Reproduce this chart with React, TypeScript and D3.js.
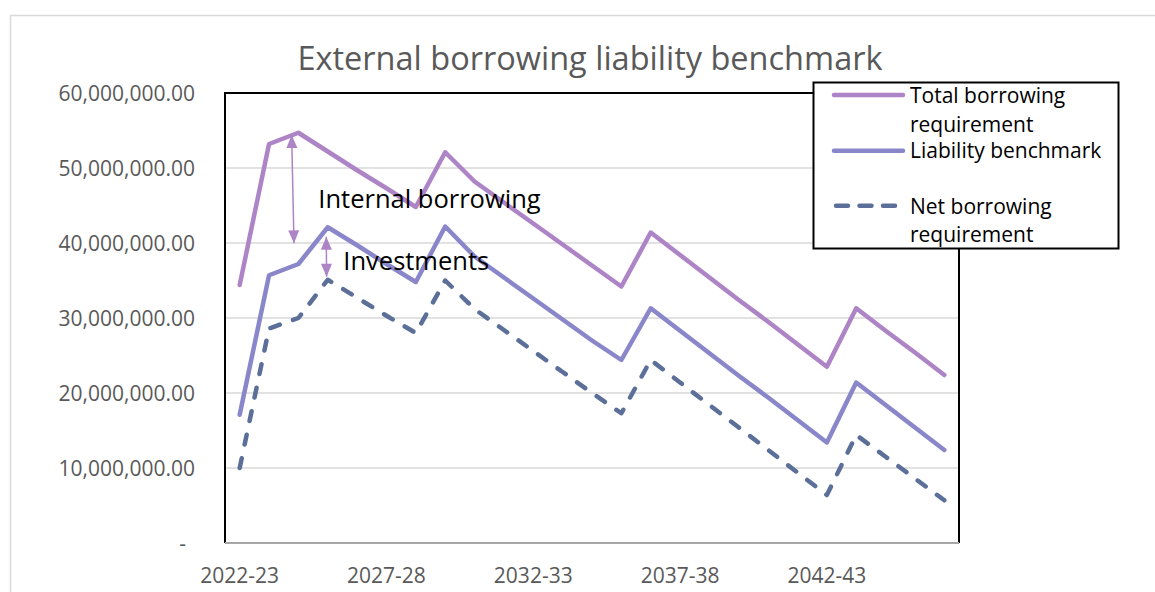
import React from "react";
import * as d3 from "d3";

const categories = [
  "2022-23","2023-24","2024-25","2025-26","2026-27","2027-28","2028-29","2029-30","2030-31","2031-32",
  "2032-33","2033-34","2034-35","2035-36","2036-37","2037-38","2038-39","2039-40","2040-41","2041-42",
  "2042-43","2043-44","2044-45","2045-46","2046-47",
];
const xTickLabels = ["2022-23", "2027-28", "2032-33", "2037-38", "2042-43"];

// values in millions
const totalBorrowing = [34.4, 53.2, 54.7, 52.2, 49.7, 47.3, 44.8, 52.1, 48.2, 45.4, 42.6, 39.8, 37.0, 34.2, 41.4, 38.4, 35.4, 32.4, 29.5, 26.5, 23.5, 31.3, 28.3, 25.4, 22.4];
const liabilityBenchmark = [17.1, 35.7, 37.2, 42.1, 39.7, 37.2, 34.8, 42.2, 38.2, 35.4, 32.6, 29.8, 27.0, 24.4, 31.3, 28.3, 25.3, 22.3, 19.4, 16.4, 13.4, 21.4, 18.4, 15.4, 12.4];
const netBorrowing = [10.0, 28.6, 30.0, 35.1, 32.7, 30.3, 28.0, 35.0, 31.2, 28.4, 25.6, 22.8, 20.0, 17.3, 24.4, 21.4, 18.4, 15.4, 12.4, 9.4, 6.4, 14.4, 11.5, 8.6, 5.7];

const yTicks = [0, 10e6, 20e6, 30e6, 40e6, 50e6, 60e6];

// annotations in data coordinates (category index, value)
const arrows = [
  { x1: 1.77, y1: 54.4e6, x2: 1.85, y2: 39.96e6 },
  { x1: 2.95, y1: 40.84e6, x2: 2.96, y2: 35.5e6 },
];
const labels = [
  { text: "Internal borrowing", x: 2.68, y: 44.63e6 },
  { text: "Investments", x: 3.53, y: 36.4e6 },
];

const COLORS = { total: "#AD84C6", liability: "#8A86CA", net: "#5B6F99" };
const FONT = "'Open Sans', sans-serif";

export default function App() {
  const W = 1155, H = 592;
  const left = 225, right = 959, top = 93, bottom = 543;
  const x = d3.scalePoint<string>().domain(categories).range([left, right]).padding(0.5);
  const xi = d3.scaleLinear().domain([0, categories.length - 1]).range([x(categories[0])!, x(categories[categories.length - 1])!]);
  const y = d3.scaleLinear().domain([0, 60e6]).range([bottom, top]);
  const fmt = d3.format(",.2f");

  const line = d3.line<number>().x((_, i) => x(categories[i])!).y((d) => y(d * 1e6));

  const series = [
    { name: "total", data: totalBorrowing, color: COLORS.total, dash: undefined },
    { name: "liability", data: liabilityBenchmark, color: COLORS.liability, dash: undefined },
    { name: "net", data: netBorrowing, color: COLORS.net, dash: "10 14" },
  ];

  const arrowHead = (tx: number, ty: number, ang: number) => {
    const len = 13, half = 5.5;
    const ux = Math.cos(ang), uy = Math.sin(ang);
    const bx = tx - ux * len, by = ty - uy * len;
    const px = -uy, py = ux;
    return `M${tx},${ty}L${bx + px * half},${by + py * half}L${bx - px * half},${by - py * half}Z`;
  };

  return (
    <svg width={W} height={H} style={{ position: "absolute", left: 0, top: 0, background: "#fff" }} fontFamily={FONT}>
      <rect x={0} y={0} width={W} height={H} fill="#fff" />
      <rect x={10.5} y={15.5} width={W + 20} height={H + 20} fill="none" stroke="#D9D9D9" strokeWidth={1.5} />
      <text x={590} y={70} textAnchor="middle" fontSize={32.5} fill="#595959">External borrowing liability benchmark</text>

      {yTicks.filter((t) => t > 0 && t < 60e6).map((t) => (
        <line key={t} x1={left} x2={right} y1={y(t)} y2={y(t)} stroke="#D9D9D9" strokeWidth={1.5} />
      ))}

      <path d={`M${left},${bottom}L${left},${top}L${right},${top}L${right},${bottom}`} fill="none" stroke="#000" strokeWidth={2} />
      <line x1={left} x2={right} y1={bottom} y2={bottom} stroke="#A6A6A6" strokeWidth={2} />

      {yTicks.map((t) => (
        <text key={t} x={t === 0 ? 186 : 195} y={y(t) + 7.5} textAnchor="end" fontSize={21} fill="#595959">
          {t === 0 ? "-" : fmt(t)}
        </text>
      ))}

      {xTickLabels.map((c) => (
        <text key={c} x={x(c)!} y={583} textAnchor="middle" fontSize={21} fill="#595959">{c}</text>
      ))}

      {series.map((s) => (
        <path key={s.name} d={line(s.data)!} fill="none" stroke={s.color} strokeWidth={4.5}
          strokeLinejoin="round" strokeLinecap="round" strokeDasharray={s.dash} />
      ))}

      {arrows.map((a, i) => {
        const X1 = xi(a.x1), Y1 = y(a.y1), X2 = xi(a.x2), Y2 = y(a.y2);
        const ang = Math.atan2(Y2 - Y1, X2 - X1);
        return (
          <g key={i}>
            <line x1={X1} y1={Y1} x2={X2} y2={Y2} stroke={COLORS.total} strokeWidth={1.5} />
            <path d={arrowHead(X2, Y2, ang)} fill={COLORS.total} />
            <path d={arrowHead(X1, Y1, ang + Math.PI)} fill={COLORS.total} />
          </g>
        );
      })}

      {labels.map((l) => (
        <text key={l.text} x={xi(l.x)} y={y(l.y)} fontSize={25.5} fill="#000">{l.text}</text>
      ))}

      <g>
        <rect x={813.5} y={82.5} width={305} height={166} fill="#fff" stroke="#000" strokeWidth={2} />
        <line x1={834} x2={903} y1={95} y2={95} stroke={COLORS.total} strokeWidth={4.5} strokeLinecap="round" />
        <text x={910} y={103} fontSize={21} fill="#000">Total borrowing</text>
        <text x={910} y={131.5} fontSize={21} fill="#000">requirement</text>
        <line x1={834} x2={903} y1={150.7} y2={150.7} stroke={COLORS.liability} strokeWidth={4.5} strokeLinecap="round" />
        <text x={910} y={158} fontSize={21} fill="#000">Liability benchmark</text>
        <line x1={836} x2={901} y1={205.7} y2={205.7} stroke={COLORS.net} strokeWidth={4.5} strokeLinecap="round" strokeDasharray="12 11.5" />
        <text x={910} y={214} fontSize={21} fill="#000">Net borrowing</text>
        <text x={910} y={241.5} fontSize={21} fill="#000">requirement</text>
      </g>
    </svg>
  );
}
